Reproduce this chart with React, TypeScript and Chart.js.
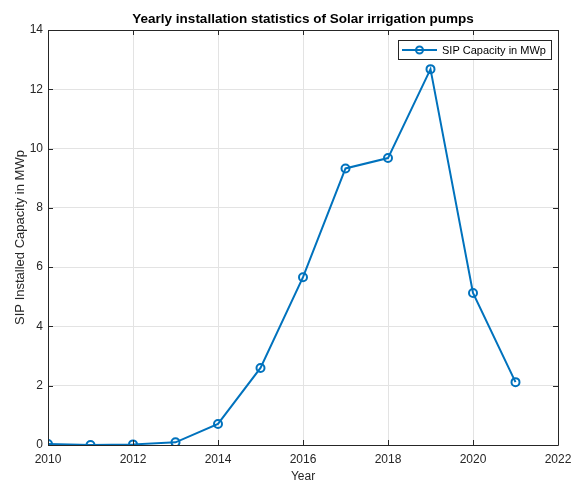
import React, { useEffect, useRef } from "react";
import { Chart, registerables } from "chart.js";

Chart.register(...registerables);

const years = [2010, 2011, 2012, 2013, 2014, 2015, 2016, 2017, 2018, 2019, 2020, 2021];
const capacityMWp = [0.03, 0.0, 0.02, 0.09, 0.71, 2.6, 5.66, 9.33, 9.68, 12.68, 5.13, 2.12];
const seriesLabel = "SIP Capacity in MWp";
const titleText = "Yearly installation statistics of Solar irrigation pumps";
const xTitle = "Year";
const yTitle = "SIP Installed Capacity in MWp";

const FONT = "'Liberation Sans', Arial, Helvetica, sans-serif";
const AXIS = "#262626";
const BLUE = "#0072BD";

const matlabPlugin = {
  id: "matlabDecor",
  afterDatasetsDraw(chart: any) {
    const { ctx, chartArea: a, scales } = chart;
    const L = 5;
    ctx.save();
    ctx.strokeStyle = AXIS;
    ctx.lineWidth = 1;
    ctx.beginPath();
    ctx.rect(Math.round(a.left) + 0.5, Math.round(a.top) + 0.5, Math.round(a.right - a.left), Math.round(a.bottom - a.top));
    scales.x.ticks.forEach((t: any) => {
      const x = Math.round(scales.x.getPixelForValue(t.value)) + 0.5;
      ctx.moveTo(x, a.bottom);
      ctx.lineTo(x, a.bottom - L);
      ctx.moveTo(x, a.top);
      ctx.lineTo(x, a.top + L);
    });
    scales.y.ticks.forEach((t: any) => {
      const y = Math.round(scales.y.getPixelForValue(t.value)) + 0.5;
      ctx.moveTo(a.left, y);
      ctx.lineTo(a.left + L, y);
      ctx.moveTo(a.right, y);
      ctx.lineTo(a.right - L, y);
    });
    ctx.stroke();

    // title
    ctx.fillStyle = "#000";
    ctx.font = `bold 13.5px ${FONT}`;
    ctx.textAlign = "center";
    ctx.textBaseline = "alphabetic";
    ctx.fillText(titleText, (a.left + a.right) / 2, 23);

    // x title
    ctx.fillStyle = AXIS;
    ctx.font = `12px ${FONT}`;
    ctx.fillText(xTitle, (a.left + a.right) / 2, 479.5);

    // y title
    ctx.save();
    ctx.translate(24, (a.top + a.bottom) / 2);
    ctx.rotate(-Math.PI / 2);
    ctx.font = `13px ${FONT}`;
    ctx.fillText(yTitle, 0, 0);
    ctx.restore();

    // legend
    const bx = 398.5, by = 40.5, bw = 153, bh = 19;
    ctx.fillStyle = "#fff";
    ctx.fillRect(bx, by, bw, bh);
    ctx.strokeStyle = AXIS;
    ctx.lineWidth = 1;
    ctx.strokeRect(bx, by, bw, bh);
    const cy = by + bh / 2;
    ctx.strokeStyle = BLUE;
    ctx.lineWidth = 2;
    ctx.beginPath();
    ctx.moveTo(402, cy);
    ctx.lineTo(437, cy);
    ctx.stroke();
    ctx.beginPath();
    ctx.arc(419.5, cy, 3.5, 0, Math.PI * 2);
    ctx.stroke();
    ctx.fillStyle = "#000";
    ctx.font = `11px ${FONT}`;
    ctx.textAlign = "left";
    ctx.textBaseline = "middle";
    ctx.fillText(seriesLabel, 442, cy + 0.5);
    ctx.restore();
  },
};

export default function App() {
  const ref = useRef<HTMLCanvasElement | null>(null);
  useEffect(() => {
    document.body.style.margin = "0";
    const chart = new Chart(ref.current!, {
      type: "line",
      data: {
        datasets: [
          {
            label: seriesLabel,
            data: years.map((y, i) => ({ x: y, y: capacityMWp[i] })),
            borderColor: BLUE,
            borderWidth: 2,
            pointRadius: 4,
            pointBorderWidth: 2,
            pointBackgroundColor: "rgba(0,0,0,0)",
            pointBorderColor: BLUE,
            tension: 0,
          },
        ],
      },
      options: {
        animation: false,
        responsive: false,
        layout: { padding: { top: 30, right: 14, left: 0, bottom: 0 } },
        plugins: { legend: { display: false }, title: { display: false }, tooltip: { enabled: false } },
        scales: {
          x: {
            type: "linear",
            min: 2010,
            max: 2022,
            ticks: { stepSize: 2, color: AXIS, font: { family: FONT, size: 12 }, padding: 7, callback: (v: any) => String(v), maxRotation: 0 },
            grid: { color: "#e3e3e3", drawTicks: false },
            border: { display: false },
            afterFit: (s: any) => { s.height = 35; s.paddingRight = 0; s.paddingLeft = 0; },
          },
          y: {
            min: 0,
            max: 14,
            ticks: { stepSize: 2, color: AXIS, font: { family: FONT, size: 12 }, padding: 5 },
            grid: { color: "#e3e3e3", drawTicks: false },
            border: { display: false },
            afterFit: (s: any) => { s.width = 48; s.paddingTop = 0; s.paddingBottom = 0; },
          },
        },
      },
      plugins: [matlabPlugin],
    });
    return () => chart.destroy();
  }, []);
  return (
    <div style={{ width: 572, height: 480 }}>
      <canvas ref={ref} width={572} height={480} />
    </div>
  );
}
